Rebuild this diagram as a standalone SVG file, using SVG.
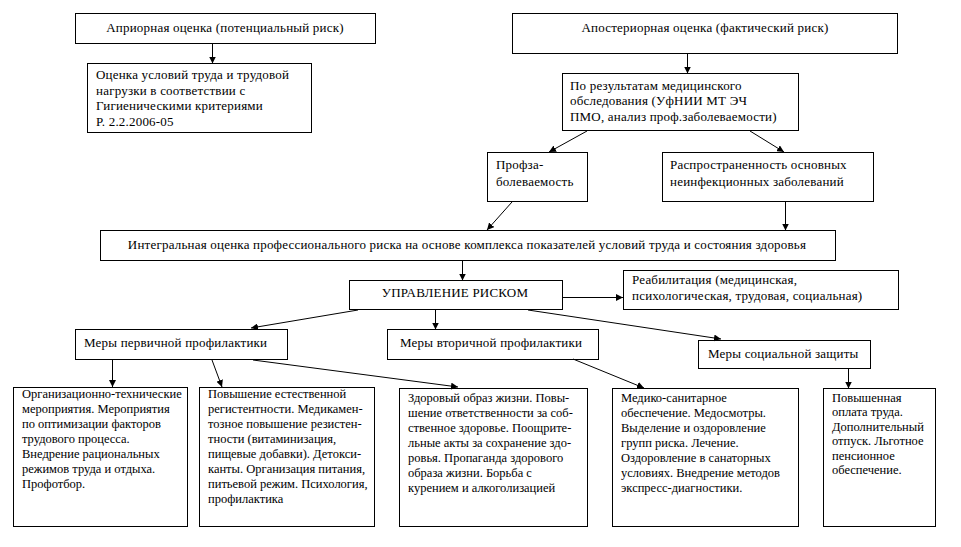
<svg xmlns="http://www.w3.org/2000/svg" width="961" height="547" viewBox="0 0 961 547">
<defs>
<style>
.box{fill:#fff;stroke:#000;stroke-width:1}
.lbl{font-family:"Liberation Serif","Times New Roman",serif;font-size:13px;letter-spacing:0.2px;fill:#000}
.sm{font-size:12.5px;letter-spacing:0}
.c{text-anchor:middle}
.conn{stroke:#000;stroke-width:1;fill:none;marker-end:url(#ah)}
</style>
<marker id="ah" viewBox="0 0 10 10" refX="10" refY="5" markerWidth="7" markerHeight="7" markerUnits="userSpaceOnUse" orient="auto"><path d="M0,0L10,5L0,10z" fill="#000"/></marker>
</defs>
<rect x="0" y="0" width="961" height="547" fill="#fff"/>
<g class="lbl">
<g id="n-apriori"><rect class="box" x="75.5" y="13.5" width="300" height="30"/><text class="c" x="225" y="32">Априорная оценка (потенциальный риск)</text></g>
<g id="n-ocenka"><rect class="box" x="87.5" y="63.5" width="224" height="69"/><text x="96" y="79">Оценка условий труда и трудовой</text><text x="96" y="95">нагрузки в соответствии с</text><text x="96" y="110">Гигиеническими критериями</text><text x="96" y="126">Р. 2.2.2006-05</text></g>
<g id="n-aposteriori"><rect class="box" x="512.5" y="13.5" width="385" height="40"/><text class="c" x="705" y="32">Апостериорная оценка (фактический риск)</text></g>
<g id="n-medobsl"><rect class="box" x="562.5" y="73.5" width="236" height="57"/><text x="570" y="90">По результатам медицинского</text><text x="570" y="105">обследования (УфНИИ МТ ЭЧ</text><text x="570" y="121">ПМО, анализ проф.заболеваемости)</text></g>
<g id="n-profzab"><rect class="box" x="487.5" y="152.5" width="100" height="49"/><text x="496" y="169">Профза-</text><text x="496" y="186">болеваемость</text></g>
<g id="n-rasprostr"><rect class="box" x="662.5" y="152.5" width="211" height="49"/><text x="670" y="169">Распространенность основных</text><text x="670" y="186">неинфекционных заболеваний</text></g>
<g id="n-integral"><rect class="box" x="100.5" y="230.5" width="735" height="30"/><text class="c" x="467" y="249">Интегральная оценка профессионального риска на основе комплекса показателей условий труда и состояния здоровья</text></g>
<g id="n-upravl"><rect class="box" x="349.5" y="280.5" width="213" height="29"/><text class="c" x="455" y="297">УПРАВЛЕНИЕ РИСКОМ</text></g>
<g id="n-reabil"><rect class="box" x="623.5" y="270.5" width="275" height="39"/><text x="632" y="284">Реабилитация (медицинская,</text><text x="632" y="300">психологическая, трудовая, социальная)</text></g>
<g id="n-perv"><rect class="box" x="75.5" y="329.5" width="212" height="30"/><text x="84" y="347">Меры первичной профилактики</text></g>
<g id="n-vtor"><rect class="box" x="387.5" y="329.5" width="211" height="30"/><text x="400" y="347">Меры вторичной профилактики</text></g>
<g id="n-soc"><rect class="box" x="698.5" y="340.5" width="172" height="28"/><text x="708" y="358">Меры социальной защиты</text></g>
<g id="n-orgtech" class="sm"><rect class="box" x="13.5" y="387.5" width="174" height="139"/><text x="22" y="398">Организационно-технические</text><text x="22" y="413">мероприятия.  Мероприятия</text><text x="22" y="428">по оптимизации факторов</text><text x="22" y="443">трудового процесса.</text><text x="22" y="458">Внедрение рациональных</text><text x="22" y="473">режимов труда и отдыха.</text><text x="22" y="488">Профотбор.</text></g>
<g id="n-rezist" class="sm"><rect class="box" x="199.5" y="387.5" width="175" height="139"/><text x="208" y="398">Повышение естественной</text><text x="208" y="413">регистентности. Медикамен-</text><text x="208" y="428">тозное повышение резистен-</text><text x="208" y="443">тности (витаминизация,</text><text x="208" y="458">пищевые добавки). Детокси-</text><text x="208" y="473">канты. Организация питания,</text><text x="208" y="488">питьевой режим. Психология,</text><text x="208" y="503">профилактика</text></g>
<g id="n-zozh" class="sm"><rect class="box" x="399.5" y="388.5" width="188" height="138"/><text x="408" y="402">Здоровый образ жизни. Повы-</text><text x="408" y="417">шение ответственности за соб-</text><text x="408" y="432">ственное здоровье. Поощрите-</text><text x="408" y="447">льные акты за сохранение здо-</text><text x="408" y="462">ровья. Пропаганда здорового</text><text x="408" y="477">образа жизни. Борьба с</text><text x="408" y="492">курением и алкоголизацией</text></g>
<g id="n-medsan" class="sm"><rect class="box" x="612.5" y="388.5" width="186" height="138"/><text x="621" y="402">Медико-санитарное</text><text x="621" y="417">обеспечение. Медосмотры.</text><text x="621" y="432">Выделение и оздоровление</text><text x="621" y="447">групп риска. Лечение.</text><text x="621" y="462">Оздоровление в санаторных</text><text x="621" y="477">условиях. Внедрение методов</text><text x="621" y="492">экспресс-диагностики.</text></g>
<g id="n-oplata" class="sm"><rect class="box" x="823.5" y="388.5" width="112" height="138"/><text x="832" y="402">Повышенная</text><text x="832" y="416">оплата труда.</text><text x="832" y="431">Дополнительный</text><text x="832" y="445">отпуск.  Льготное</text><text x="832" y="460">пенсионное</text><text x="832" y="474">обеспечение.</text></g>
</g>
<g id="connectors">
<line class="conn" x1="212.5" y1="43.5" x2="212.5" y2="63.5"/>
<line class="conn" x1="687.5" y1="53.5" x2="687.5" y2="73.5"/>
<line class="conn" x1="587" y1="131" x2="549" y2="152"/>
<line class="conn" x1="750" y1="131" x2="784" y2="152"/>
<line class="conn" x1="512" y1="202" x2="487" y2="230"/>
<line class="conn" x1="785.5" y1="201.5" x2="785.5" y2="230.5"/>
<line class="conn" x1="462.5" y1="260.5" x2="462.5" y2="280.5"/>
<line class="conn" x1="562.5" y1="297.5" x2="623" y2="297.5"/>
<line class="conn" x1="358" y1="310" x2="251" y2="328"/>
<line class="conn" x1="435.5" y1="309.5" x2="435.5" y2="329.5"/>
<line class="conn" x1="528" y1="310" x2="721" y2="339"/>
<line class="conn" x1="112.5" y1="359.5" x2="112.5" y2="387"/>
<line class="conn" x1="212" y1="360" x2="222" y2="387"/>
<line class="conn" x1="253" y1="360" x2="458" y2="387"/>
<line class="conn" x1="573" y1="359" x2="644" y2="388"/>
<line class="conn" x1="848.5" y1="368.5" x2="848.5" y2="388.5"/>
</g>
</svg>
